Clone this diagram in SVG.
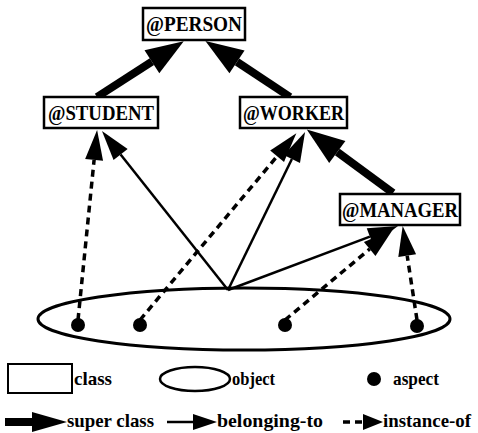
<svg xmlns="http://www.w3.org/2000/svg" width="478" height="433" viewBox="0 0 478 433">
  <style>
    .box { fill: #fff; stroke: #000; stroke-width: 2.5; }
    .lbl { font-family: "Liberation Serif", "Times New Roman", serif; font-weight: bold; font-size: 20px; fill: #000; }
    .leg { font-family: "Liberation Serif", "Times New Roman", serif; font-weight: bold; font-size: 19px; fill: #000; }
    .super { stroke: #000; stroke-width: 8; fill: none; marker-end: url(#headSuper); }
    .belong { stroke: #000; stroke-width: 2.5; fill: none; marker-end: url(#headThin); }
    .inst { stroke: #000; stroke-width: 3.5; stroke-dasharray: 7 5; fill: none; marker-end: url(#headThin); }
    .dot { fill: #000; }
  </style>
  <defs>
    <marker id="headSuper" markerUnits="userSpaceOnUse" markerWidth="40" markerHeight="30" viewBox="0 -14 38 28" refX="0" refY="0" orient="auto" overflow="visible">
      <path d="M0,-13 L36,0 L0,13 Z" fill="#000"/>
    </marker>
    <marker id="headThin" markerUnits="userSpaceOnUse" markerWidth="32" markerHeight="20" viewBox="0 -10 32 20" refX="0" refY="0" orient="auto" overflow="visible">
      <path d="M0,-9 L30,0 L0,9 Z" fill="#000"/>
    </marker>
  </defs>

  <!-- object ellipse with its aspects -->
  <g id="object">
    <ellipse cx="244" cy="319" rx="206" ry="31" fill="none" stroke="#000" stroke-width="3"/>
    <circle class="dot" cx="78" cy="325" r="7"/>
    <circle class="dot" cx="140" cy="325" r="7"/>
    <circle class="dot" cx="285" cy="325" r="7"/>
    <circle class="dot" cx="417" cy="326" r="7"/>
  </g>

  <!-- connectors -->
  <g id="connectors">
    <!-- super class -->
    <line class="super" x1="97" y1="97" x2="151.9" y2="61.7"/>
    <line class="super" x1="290" y1="97" x2="237" y2="61.9"/>
    <line class="super" x1="393" y1="193" x2="337.3" y2="152"/>
    <!-- belonging-to -->
    <line class="belong" x1="228" y1="290" x2="120.6" y2="154.5"/>
    <line class="belong" x1="228" y1="290" x2="291.9" y2="159"/>
    <line class="belong" x1="228" y1="290" x2="369.9" y2="236.6"/>
    <!-- instance-of -->
    <line class="inst" x1="78" y1="320" x2="94.1" y2="159.9"/>
    <line class="inst" x1="140" y1="320" x2="277.1" y2="156.3"/>
    <line class="inst" x1="285" y1="320" x2="369.7" y2="249"/>
    <line class="inst" x1="417" y1="320" x2="407.2" y2="255.7"/>
  </g>

  <g id="person">
    <rect class="box" x="143" y="8" width="102" height="32"/>
    <text class="lbl" x="194" y="31" text-anchor="middle" textLength="96" lengthAdjust="spacingAndGlyphs">@PERSON</text>
  </g>
  <g id="student">
    <rect class="box" x="44" y="97" width="114" height="31"/>
    <text class="lbl" x="101" y="120" text-anchor="middle" textLength="106" lengthAdjust="spacingAndGlyphs">@STUDENT</text>
  </g>
  <g id="worker">
    <rect class="box" x="240" y="97" width="107" height="31"/>
    <text class="lbl" x="293.5" y="120" text-anchor="middle" textLength="101" lengthAdjust="spacingAndGlyphs">@WORKER</text>
  </g>
  <g id="manager">
    <rect class="box" x="340" y="194" width="120" height="31"/>
    <text class="lbl" x="400" y="217" text-anchor="middle" textLength="116" lengthAdjust="spacingAndGlyphs">@MANAGER</text>
  </g>

  <!-- legend -->
  <g id="legend">
    <rect x="8" y="364" width="64" height="29" fill="#fff" stroke="#000" stroke-width="2"/>
    <text class="leg" x="74" y="385" textLength="38" lengthAdjust="spacingAndGlyphs">class</text>
    <ellipse cx="195" cy="379" rx="35" ry="12" fill="none" stroke="#000" stroke-width="2.5"/>
    <text class="leg" x="232" y="385" textLength="43" lengthAdjust="spacingAndGlyphs">object</text>
    <circle class="dot" cx="374" cy="379" r="7"/>
    <text class="leg" x="393" y="385" textLength="46" lengthAdjust="spacingAndGlyphs">aspect</text>

    <line x1="5" y1="422" x2="34" y2="422" stroke="#000" stroke-width="8"/>
    <path d="M32,412 L67,422 L32,432 Z" fill="#000"/>
    <text class="leg" x="67" y="427" textLength="87" lengthAdjust="spacingAndGlyphs">super class</text>

    <line x1="167" y1="422" x2="195" y2="422" stroke="#000" stroke-width="2.5"/>
    <path d="M193,414 L217,422 L193,430 Z" fill="#000"/>
    <text class="leg" x="217" y="427" textLength="106" lengthAdjust="spacingAndGlyphs">belonging-to</text>

    <line x1="343" y1="422" x2="365" y2="422" stroke="#000" stroke-width="3.5" stroke-dasharray="7 5"/>
    <path d="M363,414 L383,422 L363,430 Z" fill="#000"/>
    <text class="leg" x="383" y="427" textLength="88" lengthAdjust="spacingAndGlyphs">instance-of</text>
  </g>
</svg>
